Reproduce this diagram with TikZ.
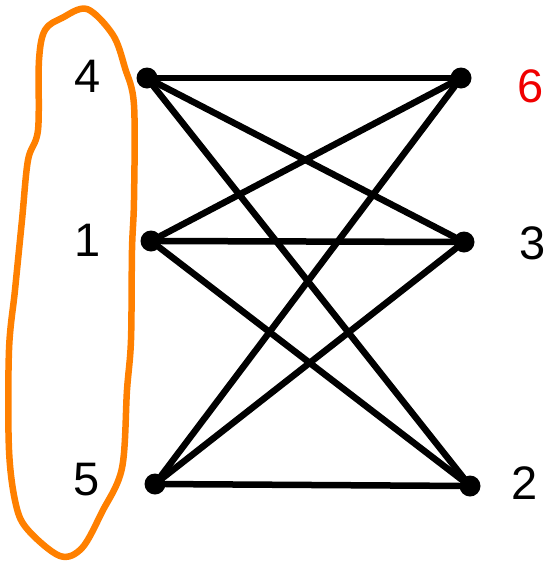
\documentclass[tikz,border=0pt]{standalone}
\usepackage{fontspec}
\setmainfont{Liberation Sans}
\usetikzlibrary{positioning}
\definecolor{loopc}{RGB}{255,128,0}
\definecolor{hotc}{RGB}{240,0,0}

\begin{document}
\begin{tikzpicture}[x=1pt,y=-1pt,font=\fontsize{47}{50}\selectfont]
\tikzstyle{v}=[circle,fill=black,inner sep=0pt,minimum size=21pt]
\tikzstyle{e}=[line width=6.5pt,line cap=round]
\useasboundingbox (0,0) rectangle (548,563);
% left side
\node[v] (l4) at (147,78) {};
\node[v] (l1) at (151,241) {};
\node[v] (l5) at (155,484) {};
\node (t4) at (88,76) {4};
\node (t1) at (88,240) {1};
\node (t5) at (87,480) {5};
% right side
\node[v] (r6) at (461,78) {};
\node[v] (r3) at (464,242) {};
\node[v] (r2) at (470,486) {};
\node[hotc] (t6) at (531,86) {6};
\node (t3) at (533,243) {3};
\node (t2) at (525,483) {2};
% all edges
\foreach \a in {l4,l1,l5} \foreach \b in {r6,r3,r2} \draw[e] (\a) -- (\b);
% hand drawn loop round the left labels
\draw[loopc,line width=6.5pt,line join=round] plot[smooth cycle,tension=0.55] coordinates {
  (87,9) (62,18) (45,30) (39,60) (38,130) (28,160) (22,220) (15,290)
  (9,350) (9,450) (16,505) (28,530) (60,556) (82,548) (102,512)
  (122,468) (127,390) (131,340) (132,250) (134,200) (134,105) (125,68) (113,35)};
\end{tikzpicture}
\end{document}
